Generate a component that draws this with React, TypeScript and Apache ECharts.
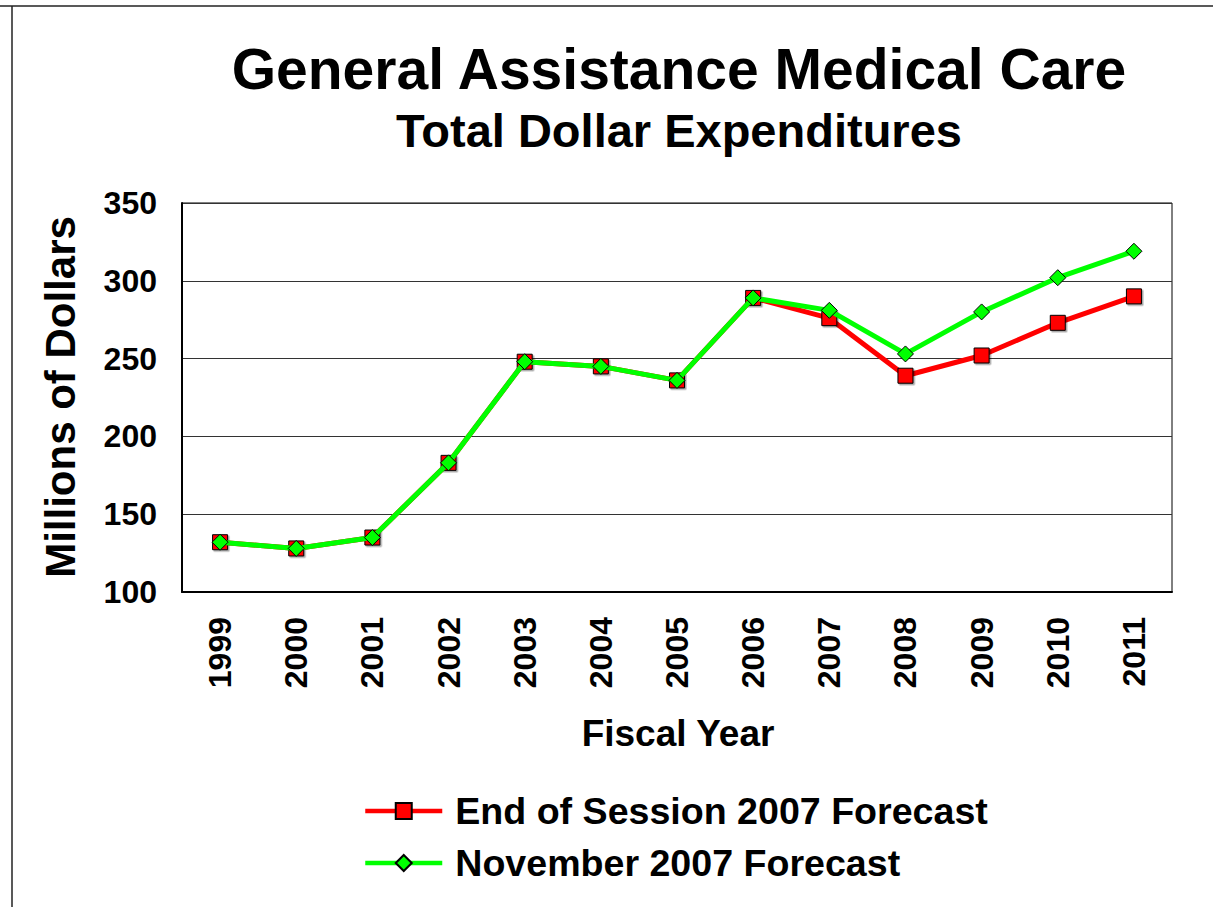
import React, { useEffect, useRef } from "react";
import * as echarts from "echarts";

const years = ["1999", "2000", "2001", "2002", "2003", "2004", "2005", "2006", "2007", "2008", "2009", "2010", "2011"];
const endOfSession2007 = [132, 128, 135, 183, 248, 245, 236, 289, 276, 239, 252, 273, 290];
const november2007 = [132, 128, 135, 183, 248, 245, 236, 289, 281, 253, 280, 302, 319];
const yTicks = { min: 100, max: 350, interval: 50 };

const FONT = "'Liberation Sans', Arial, Helvetica, sans-serif";

export default function App() {
  const ref = useRef<HTMLDivElement>(null);
  useEffect(() => {
    if (!ref.current) return;
    const chart = echarts.init(ref.current, null, { renderer: "svg" });
    chart.setOption({
      animation: false,
      backgroundColor: "#fff",
      textStyle: { fontFamily: FONT },
      graphic: [
        { type: "line", shape: { x1: 0, y1: 6, x2: 1213, y2: 6 }, style: { stroke: "#222", lineWidth: 1.5 } },
        { type: "line", shape: { x1: 12, y1: 6, x2: 12, y2: 907 }, style: { stroke: "#222", lineWidth: 1.5 } },
        {
          type: "text", x: 679, y: 69,
          style: { text: "General Assistance Medical Care", align: "center", verticalAlign: "middle", font: `bold 57px ${FONT}`, fill: "#000" },
        },
        {
          type: "text", x: 679, y: 130,
          style: { text: "Total Dollar Expenditures", align: "center", verticalAlign: "middle", font: `bold 47px ${FONT}`, fill: "#000" },
        },
        {
          type: "text", x: 678, y: 733,
          style: { text: "Fiscal Year", align: "center", verticalAlign: "middle", font: `bold 37px ${FONT}`, fill: "#000" },
        },
        {
          type: "text", x: 60, y: 397, rotation: Math.PI / 2,
          style: { text: "Millions of Dollars", align: "center", verticalAlign: "middle", font: `bold 42px ${FONT}`, fill: "#000" },
        },
      ],
      grid: { left: 182, top: 203, right: 41, bottom: 315, show: true, borderColor: "#000", borderWidth: 1 },
      xAxis: {
        type: "category",
        data: years,
        boundaryGap: true,
        axisLine: { lineStyle: { color: "#000", width: 2 } },
        axisTick: { show: false },
        axisLabel: { rotate: 90, margin: 25, fontSize: 32, fontWeight: "bold", color: "#000", fontFamily: FONT },
        splitLine: { show: false },
      },
      yAxis: {
        type: "value",
        min: yTicks.min,
        max: yTicks.max,
        interval: yTicks.interval,
        axisLine: { show: true, lineStyle: { color: "#000", width: 2 } },
        axisTick: { show: false },
        axisLabel: { margin: 25, fontSize: 32, fontWeight: "bold", color: "#000", fontFamily: FONT },
        splitLine: { show: true, lineStyle: { color: "#333", width: 1 } },
      },
      legend: {
        orient: "vertical",
        left: 363,
        top: 792,
        padding: 0,
        itemWidth: 77,
        itemHeight: 20,
        itemGap: 14,
        lineStyle: { width: 4.5 },
        textStyle: { fontSize: 37.6, fontWeight: "bold", color: "#000", fontFamily: FONT, padding: [0, 0, 0, 8] },
        data: ["End of Session 2007 Forecast", "November 2007 Forecast"],
      },
      series: [
        {
          name: "End of Session 2007 Forecast",
          type: "line",
          data: endOfSession2007,
          symbol: "rect",
          symbolSize: 15,
          lineStyle: { color: "#ff0000", width: 5 },
          itemStyle: { color: "#ff0000", borderColor: "#000", borderWidth: 1, shadowColor: "rgba(0,0,0,0.35)", shadowOffsetX: 1.5, shadowOffsetY: 1.5, shadowBlur: 1 },
          z: 2,
        },
        {
          name: "November 2007 Forecast",
          type: "line",
          data: november2007,
          symbol: "diamond",
          symbolSize: 16,
          lineStyle: { color: "#00ff00", width: 5 },
          itemStyle: { color: "#00ff00", borderColor: "#000", borderWidth: 1 },
          z: 3,
        },
      ],
    });
    return () => chart.dispose();
  }, []);
  return <div ref={ref} style={{ position: "absolute", left: 0, top: 0, width: 1213, height: 907 }} />;
}
